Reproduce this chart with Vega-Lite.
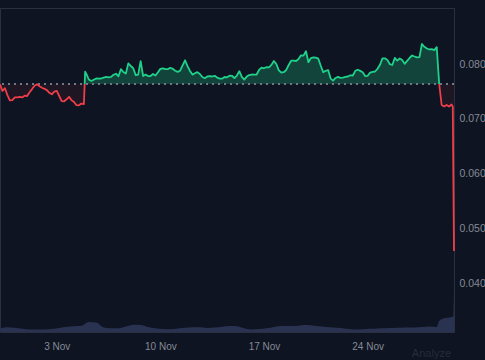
{
  "$schema": "https://vega.github.io/schema/vega-lite/v6.json",
  "width": 454,
  "height": 324,
  "autosize": {"type": "none"},
  "padding": {"left": 0, "top": 8, "right": 31, "bottom": 28},
  "background": "#0e1421",
  "title": {"text": "Analyze", "orient": "bottom", "anchor": "end", "frame": "group", "color": "#262c3a", "fontSize": 11, "font": "Liberation Sans", "fontWeight": "normal", "offset": -3, "dx": -3},
  "config": {
    "view": {"stroke": "#2a3040"},
    "font": "Liberation Sans",
    "axis": {"ticks": false, "domain": false, "labelColor": "#858a96", "labelFont": "Liberation Sans", "gridColor": "#252b39", "gridWidth": 1},
    "axisX": {"grid": false, "labelFontSize": 10, "labelPadding": 9},
    "axisY": {"labelFontSize": 10.5, "labelPadding": 5}
  },
  "datasets": {
    "price": [
      {"t":"2024-10-30T04:00","p":0.07630,"s":"down","g":1},
      {"t":"2024-10-30T08:00","p":0.07507,"s":"down","g":1},
      {"t":"2024-10-30T12:00","p":0.07558,"s":"down","g":1},
      {"t":"2024-10-30T16:00","p":0.07432,"s":"down","g":1},
      {"t":"2024-10-30T20:00","p":0.07338,"s":"down","g":1},
      {"t":"2024-10-31T00:00","p":0.07341,"s":"down","g":1},
      {"t":"2024-10-31T04:00","p":0.07392,"s":"down","g":1},
      {"t":"2024-10-31T08:00","p":0.07392,"s":"down","g":1},
      {"t":"2024-10-31T12:00","p":0.07400,"s":"down","g":1},
      {"t":"2024-10-31T16:00","p":0.07390,"s":"down","g":1},
      {"t":"2024-10-31T20:00","p":0.07423,"s":"down","g":1},
      {"t":"2024-11-01T00:00","p":0.07416,"s":"down","g":1},
      {"t":"2024-11-01T04:00","p":0.07484,"s":"down","g":1},
      {"t":"2024-11-01T08:00","p":0.07542,"s":"down","g":1},
      {"t":"2024-11-01T12:00","p":0.07604,"s":"down","g":1},
      {"t":"2024-11-01T16:00","p":0.07630,"s":"down","g":1},
      {"t":"2024-11-01T20:00","p":0.07593,"s":"down","g":1},
      {"t":"2024-11-02T00:00","p":0.07566,"s":"down","g":1},
      {"t":"2024-11-02T04:00","p":0.07547,"s":"down","g":1},
      {"t":"2024-11-02T08:00","p":0.07524,"s":"down","g":1},
      {"t":"2024-11-02T12:00","p":0.07474,"s":"down","g":1},
      {"t":"2024-11-02T16:00","p":0.07447,"s":"down","g":1},
      {"t":"2024-11-02T20:00","p":0.07496,"s":"down","g":1},
      {"t":"2024-11-03T00:00","p":0.07509,"s":"down","g":1},
      {"t":"2024-11-03T04:00","p":0.07416,"s":"down","g":1},
      {"t":"2024-11-03T08:00","p":0.07321,"s":"down","g":1},
      {"t":"2024-11-03T12:00","p":0.07319,"s":"down","g":1},
      {"t":"2024-11-03T16:00","p":0.07356,"s":"down","g":1},
      {"t":"2024-11-03T20:00","p":0.07400,"s":"down","g":1},
      {"t":"2024-11-04T00:00","p":0.07338,"s":"down","g":1},
      {"t":"2024-11-04T04:00","p":0.07307,"s":"down","g":1},
      {"t":"2024-11-04T08:00","p":0.07248,"s":"down","g":1},
      {"t":"2024-11-04T12:00","p":0.07246,"s":"down","g":1},
      {"t":"2024-11-04T16:00","p":0.07277,"s":"down","g":1},
      {"t":"2024-11-04T20:00","p":0.07270,"s":"down","g":1},
      {"t":"2024-11-04T21:15","p":0.07635,"s":"down","g":1},
      {"t":"2024-11-04T21:15","p":0.07635,"s":"up","g":2},
      {"t":"2024-11-04T22:00","p":0.07859,"s":"up","g":2},
      {"t":"2024-11-05T00:00","p":0.07818,"s":"up","g":2},
      {"t":"2024-11-05T04:00","p":0.07717,"s":"up","g":2},
      {"t":"2024-11-05T08:00","p":0.07690,"s":"up","g":2},
      {"t":"2024-11-05T12:00","p":0.07712,"s":"up","g":2},
      {"t":"2024-11-05T16:00","p":0.07735,"s":"up","g":2},
      {"t":"2024-11-05T20:00","p":0.07732,"s":"up","g":2},
      {"t":"2024-11-06T00:00","p":0.07735,"s":"up","g":2},
      {"t":"2024-11-06T04:00","p":0.07752,"s":"up","g":2},
      {"t":"2024-11-06T08:00","p":0.07765,"s":"up","g":2},
      {"t":"2024-11-06T12:00","p":0.07757,"s":"up","g":2},
      {"t":"2024-11-06T16:00","p":0.07766,"s":"up","g":2},
      {"t":"2024-11-06T20:00","p":0.07803,"s":"up","g":2},
      {"t":"2024-11-07T00:00","p":0.07823,"s":"up","g":2},
      {"t":"2024-11-07T04:00","p":0.07776,"s":"up","g":2},
      {"t":"2024-11-07T08:00","p":0.07905,"s":"up","g":2},
      {"t":"2024-11-07T12:00","p":0.07854,"s":"up","g":2},
      {"t":"2024-11-07T16:00","p":0.07827,"s":"up","g":2},
      {"t":"2024-11-07T20:00","p":0.08011,"s":"up","g":2},
      {"t":"2024-11-08T00:00","p":0.07964,"s":"up","g":2},
      {"t":"2024-11-08T04:00","p":0.07922,"s":"up","g":2},
      {"t":"2024-11-08T08:00","p":0.07797,"s":"up","g":2},
      {"t":"2024-11-08T12:00","p":0.07807,"s":"up","g":2},
      {"t":"2024-11-08T16:00","p":0.08053,"s":"up","g":2},
      {"t":"2024-11-08T20:00","p":0.07781,"s":"up","g":2},
      {"t":"2024-11-09T00:00","p":0.07807,"s":"up","g":2},
      {"t":"2024-11-09T04:00","p":0.07779,"s":"up","g":2},
      {"t":"2024-11-09T08:00","p":0.07781,"s":"up","g":2},
      {"t":"2024-11-09T12:00","p":0.07818,"s":"up","g":2},
      {"t":"2024-11-09T16:00","p":0.07790,"s":"up","g":2},
      {"t":"2024-11-09T20:00","p":0.07849,"s":"up","g":2},
      {"t":"2024-11-10T00:00","p":0.07911,"s":"up","g":2},
      {"t":"2024-11-10T04:00","p":0.07920,"s":"up","g":2},
      {"t":"2024-11-10T08:00","p":0.07905,"s":"up","g":2},
      {"t":"2024-11-10T12:00","p":0.07905,"s":"up","g":2},
      {"t":"2024-11-10T16:00","p":0.07931,"s":"up","g":2},
      {"t":"2024-11-10T20:00","p":0.07912,"s":"up","g":2},
      {"t":"2024-11-11T00:00","p":0.07876,"s":"up","g":2},
      {"t":"2024-11-11T04:00","p":0.07856,"s":"up","g":2},
      {"t":"2024-11-11T08:00","p":0.07878,"s":"up","g":2},
      {"t":"2024-11-11T12:00","p":0.07974,"s":"up","g":2},
      {"t":"2024-11-11T16:00","p":0.08068,"s":"up","g":2},
      {"t":"2024-11-11T20:00","p":0.07960,"s":"up","g":2},
      {"t":"2024-11-12T00:00","p":0.07874,"s":"up","g":2},
      {"t":"2024-11-12T04:00","p":0.07807,"s":"up","g":2},
      {"t":"2024-11-12T08:00","p":0.07830,"s":"up","g":2},
      {"t":"2024-11-12T12:00","p":0.07852,"s":"up","g":2},
      {"t":"2024-11-12T16:00","p":0.07818,"s":"up","g":2},
      {"t":"2024-11-12T20:00","p":0.07763,"s":"up","g":2},
      {"t":"2024-11-13T00:00","p":0.07741,"s":"up","g":2},
      {"t":"2024-11-13T04:00","p":0.07772,"s":"up","g":2},
      {"t":"2024-11-13T08:00","p":0.07779,"s":"up","g":2},
      {"t":"2024-11-13T12:00","p":0.07772,"s":"up","g":2},
      {"t":"2024-11-13T16:00","p":0.07785,"s":"up","g":2},
      {"t":"2024-11-13T20:00","p":0.07752,"s":"up","g":2},
      {"t":"2024-11-14T00:00","p":0.07734,"s":"up","g":2},
      {"t":"2024-11-14T04:00","p":0.07732,"s":"up","g":2},
      {"t":"2024-11-14T08:00","p":0.07763,"s":"up","g":2},
      {"t":"2024-11-14T12:00","p":0.07757,"s":"up","g":2},
      {"t":"2024-11-14T16:00","p":0.07786,"s":"up","g":2},
      {"t":"2024-11-14T20:00","p":0.07785,"s":"up","g":2},
      {"t":"2024-11-15T00:00","p":0.07743,"s":"up","g":2},
      {"t":"2024-11-15T04:00","p":0.07790,"s":"up","g":2},
      {"t":"2024-11-15T08:00","p":0.07869,"s":"up","g":2},
      {"t":"2024-11-15T12:00","p":0.07765,"s":"up","g":2},
      {"t":"2024-11-15T16:00","p":0.07715,"s":"up","g":2},
      {"t":"2024-11-15T20:00","p":0.07770,"s":"up","g":2},
      {"t":"2024-11-16T00:00","p":0.07799,"s":"up","g":2},
      {"t":"2024-11-16T04:00","p":0.07808,"s":"up","g":2},
      {"t":"2024-11-16T08:00","p":0.07807,"s":"up","g":2},
      {"t":"2024-11-16T12:00","p":0.07808,"s":"up","g":2},
      {"t":"2024-11-16T16:00","p":0.07891,"s":"up","g":2},
      {"t":"2024-11-16T20:00","p":0.07934,"s":"up","g":2},
      {"t":"2024-11-17T00:00","p":0.07922,"s":"up","g":2},
      {"t":"2024-11-17T04:00","p":0.07942,"s":"up","g":2},
      {"t":"2024-11-17T08:00","p":0.07940,"s":"up","g":2},
      {"t":"2024-11-17T12:00","p":0.07984,"s":"up","g":2},
      {"t":"2024-11-17T16:00","p":0.08055,"s":"up","g":2},
      {"t":"2024-11-17T20:00","p":0.08000,"s":"up","g":2},
      {"t":"2024-11-18T00:00","p":0.07883,"s":"up","g":2},
      {"t":"2024-11-18T04:00","p":0.07845,"s":"up","g":2},
      {"t":"2024-11-18T08:00","p":0.07850,"s":"up","g":2},
      {"t":"2024-11-18T12:00","p":0.07891,"s":"up","g":2},
      {"t":"2024-11-18T16:00","p":0.07982,"s":"up","g":2},
      {"t":"2024-11-18T20:00","p":0.08060,"s":"up","g":2},
      {"t":"2024-11-19T00:00","p":0.08062,"s":"up","g":2},
      {"t":"2024-11-19T04:00","p":0.08055,"s":"up","g":2},
      {"t":"2024-11-19T08:00","p":0.08091,"s":"up","g":2},
      {"t":"2024-11-19T12:00","p":0.08159,"s":"up","g":2},
      {"t":"2024-11-19T16:00","p":0.08153,"s":"up","g":2},
      {"t":"2024-11-19T20:00","p":0.08232,"s":"up","g":2},
      {"t":"2024-11-20T00:00","p":0.08033,"s":"up","g":2},
      {"t":"2024-11-20T04:00","p":0.08108,"s":"up","g":2},
      {"t":"2024-11-20T08:00","p":0.08120,"s":"up","g":2},
      {"t":"2024-11-20T12:00","p":0.08117,"s":"up","g":2},
      {"t":"2024-11-20T16:00","p":0.08097,"s":"up","g":2},
      {"t":"2024-11-20T20:00","p":0.07969,"s":"up","g":2},
      {"t":"2024-11-21T00:00","p":0.07850,"s":"up","g":2},
      {"t":"2024-11-21T04:00","p":0.07876,"s":"up","g":2},
      {"t":"2024-11-21T08:00","p":0.07889,"s":"up","g":2},
      {"t":"2024-11-21T12:00","p":0.07734,"s":"up","g":2},
      {"t":"2024-11-21T16:00","p":0.07697,"s":"up","g":2},
      {"t":"2024-11-21T20:00","p":0.07745,"s":"up","g":2},
      {"t":"2024-11-22T00:00","p":0.07766,"s":"up","g":2},
      {"t":"2024-11-22T04:00","p":0.07748,"s":"up","g":2},
      {"t":"2024-11-22T08:00","p":0.07752,"s":"up","g":2},
      {"t":"2024-11-22T12:00","p":0.07765,"s":"up","g":2},
      {"t":"2024-11-22T16:00","p":0.07772,"s":"up","g":2},
      {"t":"2024-11-22T20:00","p":0.07794,"s":"up","g":2},
      {"t":"2024-11-23T00:00","p":0.07790,"s":"up","g":2},
      {"t":"2024-11-23T04:00","p":0.07876,"s":"up","g":2},
      {"t":"2024-11-23T08:00","p":0.07896,"s":"up","g":2},
      {"t":"2024-11-23T12:00","p":0.07874,"s":"up","g":2},
      {"t":"2024-11-23T16:00","p":0.07849,"s":"up","g":2},
      {"t":"2024-11-23T20:00","p":0.07779,"s":"up","g":2},
      {"t":"2024-11-24T00:00","p":0.07785,"s":"up","g":2},
      {"t":"2024-11-24T04:00","p":0.07843,"s":"up","g":2},
      {"t":"2024-11-24T08:00","p":0.07856,"s":"up","g":2},
      {"t":"2024-11-24T12:00","p":0.07863,"s":"up","g":2},
      {"t":"2024-11-24T16:00","p":0.07912,"s":"up","g":2},
      {"t":"2024-11-24T20:00","p":0.07985,"s":"up","g":2},
      {"t":"2024-11-25T00:00","p":0.08104,"s":"up","g":2},
      {"t":"2024-11-25T04:00","p":0.08104,"s":"up","g":2},
      {"t":"2024-11-25T08:00","p":0.08075,"s":"up","g":2},
      {"t":"2024-11-25T12:00","p":0.07996,"s":"up","g":2},
      {"t":"2024-11-25T16:00","p":0.07982,"s":"up","g":2},
      {"t":"2024-11-25T20:00","p":0.08110,"s":"up","g":2},
      {"t":"2024-11-26T00:00","p":0.08062,"s":"up","g":2},
      {"t":"2024-11-26T04:00","p":0.08100,"s":"up","g":2},
      {"t":"2024-11-26T08:00","p":0.08073,"s":"up","g":2},
      {"t":"2024-11-26T12:00","p":0.08002,"s":"up","g":2},
      {"t":"2024-11-26T16:00","p":0.08058,"s":"up","g":2},
      {"t":"2024-11-26T20:00","p":0.08110,"s":"up","g":2},
      {"t":"2024-11-27T00:00","p":0.08155,"s":"up","g":2},
      {"t":"2024-11-27T04:00","p":0.08137,"s":"up","g":2},
      {"t":"2024-11-27T08:00","p":0.08120,"s":"up","g":2},
      {"t":"2024-11-27T12:00","p":0.08124,"s":"up","g":2},
      {"t":"2024-11-27T16:00","p":0.08365,"s":"up","g":2},
      {"t":"2024-11-27T20:00","p":0.08314,"s":"up","g":2},
      {"t":"2024-11-28T00:00","p":0.08283,"s":"up","g":2},
      {"t":"2024-11-28T04:00","p":0.08265,"s":"up","g":2},
      {"t":"2024-11-28T08:00","p":0.08270,"s":"up","g":2},
      {"t":"2024-11-28T12:00","p":0.08252,"s":"up","g":2},
      {"t":"2024-11-28T16:00","p":0.08307,"s":"up","g":2},
      {"t":"2024-11-28T20:00","p":0.07635,"s":"up","g":2},
      {"t":"2024-11-28T20:00","p":0.07635,"s":"down","g":3},
      {"t":"2024-11-29T00:00","p":0.07252,"s":"down","g":3},
      {"t":"2024-11-29T04:00","p":0.07223,"s":"down","g":3},
      {"t":"2024-11-29T08:00","p":0.07252,"s":"down","g":3},
      {"t":"2024-11-29T12:00","p":0.07224,"s":"down","g":3},
      {"t":"2024-11-29T16:00","p":0.07261,"s":"down","g":3},
      {"t":"2024-11-29T18:00","p":0.07220,"s":"down","g":3},
      {"t":"2024-11-29T20:00","p":0.04587,"s":"down","g":3}
    ],
    "volume": [
      {"t":"2024-10-30T04:00","v":340},
      {"t":"2024-10-30T16:00","v":470},
      {"t":"2024-10-31T04:00","v":420},
      {"t":"2024-10-31T16:00","v":320},
      {"t":"2024-11-01T04:00","v":240},
      {"t":"2024-11-01T16:00","v":240},
      {"t":"2024-11-02T04:00","v":250},
      {"t":"2024-11-02T16:00","v":290},
      {"t":"2024-11-03T04:00","v":390},
      {"t":"2024-11-03T16:00","v":520},
      {"t":"2024-11-04T04:00","v":570},
      {"t":"2024-11-04T16:00","v":620},
      {"t":"2024-11-05T04:00","v":1000},
      {"t":"2024-11-05T16:00","v":940},
      {"t":"2024-11-06T04:00","v":450},
      {"t":"2024-11-06T16:00","v":370},
      {"t":"2024-11-07T04:00","v":370},
      {"t":"2024-11-07T16:00","v":540},
      {"t":"2024-11-08T04:00","v":720},
      {"t":"2024-11-08T16:00","v":690},
      {"t":"2024-11-09T04:00","v":500},
      {"t":"2024-11-09T16:00","v":370},
      {"t":"2024-11-10T04:00","v":290},
      {"t":"2024-11-10T16:00","v":270},
      {"t":"2024-11-11T04:00","v":350},
      {"t":"2024-11-11T16:00","v":420},
      {"t":"2024-11-12T04:00","v":470},
      {"t":"2024-11-12T16:00","v":470},
      {"t":"2024-11-13T04:00","v":400},
      {"t":"2024-11-13T16:00","v":440},
      {"t":"2024-11-14T04:00","v":520},
      {"t":"2024-11-14T16:00","v":600},
      {"t":"2024-11-15T04:00","v":570},
      {"t":"2024-11-15T16:00","v":370},
      {"t":"2024-11-16T04:00","v":250},
      {"t":"2024-11-16T16:00","v":290},
      {"t":"2024-11-17T04:00","v":370},
      {"t":"2024-11-17T16:00","v":500},
      {"t":"2024-11-18T04:00","v":590},
      {"t":"2024-11-18T16:00","v":590},
      {"t":"2024-11-19T04:00","v":600},
      {"t":"2024-11-19T16:00","v":700},
      {"t":"2024-11-20T04:00","v":670},
      {"t":"2024-11-20T16:00","v":580},
      {"t":"2024-11-21T04:00","v":510},
      {"t":"2024-11-21T16:00","v":450},
      {"t":"2024-11-22T04:00","v":400},
      {"t":"2024-11-22T16:00","v":300},
      {"t":"2024-11-23T04:00","v":250},
      {"t":"2024-11-23T16:00","v":280},
      {"t":"2024-11-24T04:00","v":320},
      {"t":"2024-11-24T16:00","v":360},
      {"t":"2024-11-25T04:00","v":380},
      {"t":"2024-11-25T16:00","v":400},
      {"t":"2024-11-26T04:00","v":420},
      {"t":"2024-11-26T16:00","v":440},
      {"t":"2024-11-27T04:00","v":460},
      {"t":"2024-11-27T16:00","v":490},
      {"t":"2024-11-28T04:00","v":540},
      {"t":"2024-11-28T16:00","v":500},
      {"t":"2024-11-28T20:00","v":1100},
      {"t":"2024-11-29T04:00","v":1370},
      {"t":"2024-11-29T16:00","v":1500},
      {"t":"2024-11-29T19:00","v":1600},
      {"t":"2024-11-29T20:00","v":4500}
    ]
  },
  "layer": [
    {
      "data": {"name": "volume"},
      "mark": {"type": "area", "color": "#2a3252", "interpolate": "monotone"},
      "encoding": {
        "x": {
          "field": "t", "type": "temporal", "title": null,
          "axis": {
            "values": [
              {"year": 2024, "month": 11, "date": 3},
              {"year": 2024, "month": 11, "date": 10},
              {"year": 2024, "month": 11, "date": 17},
              {"year": 2024, "month": 11, "date": 24}
            ],
            "format": "%-d %b", "title": null
          }
        },
        "y": {"field": "v", "type": "quantitative", "axis": null, "scale": {"domain": [0, 32400], "nice": false}}
      }
    },
    {
      "data": {"name": "price"},
      "layer": [
        {
          "mark": {"type": "area"},
          "encoding": {
            "x": {"field": "t", "type": "temporal", "title": null},
            "y": {
              "field": "p", "type": "quantitative", "stack": null, "title": null,
              "scale": {"domain": [0.03109, 0.09022], "nice": false, "zero": false},
              "axis": {"orient": "right", "values": [0.04, 0.05, 0.06, 0.07, 0.08], "format": ".3f", "title": null}
            },
            "y2": {"datum": 0.07635},
            "detail": {"field": "g"},
            "color": {"field": "s", "type": "nominal", "scale": {"domain": ["up", "down"], "range": ["#1fd18a", "#ef3e4a"]}, "legend": null},
            "fillOpacity": {"field": "s", "type": "nominal", "scale": {"domain": ["up", "down"], "range": [0.26, 0.07]}, "legend": null}
          }
        },
        {
          "mark": {"type": "rule", "color": "#737884", "strokeDash": [2, 4], "strokeWidth": 1},
          "encoding": {
            "y": {"datum": 0.07635, "type": "quantitative"}
          }
        },
        {
          "mark": {"type": "line", "strokeWidth": 1.8, "strokeJoin": "round"},
          "encoding": {
            "x": {"field": "t", "type": "temporal", "title": null},
            "y": {"field": "p", "type": "quantitative", "title": null,
              "axis": {"orient": "right", "values": [0.04, 0.05, 0.06, 0.07, 0.08], "format": ".3f", "title": null}},
            "detail": {"field": "g"},
            "color": {"field": "s", "type": "nominal", "scale": {"domain": ["up", "down"], "range": ["#1fd18a", "#ef3e4a"]}, "legend": null}
          }
        }
      ]
    }
  ],
  "resolve": {"scale": {"y": "independent"}}
}
